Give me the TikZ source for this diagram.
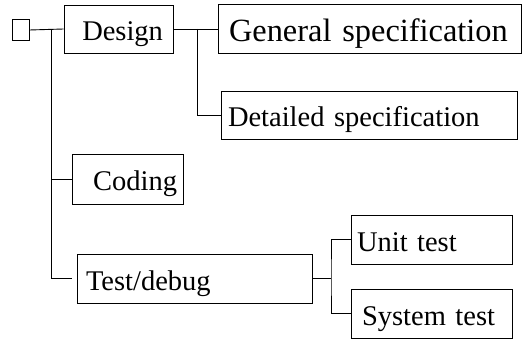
\documentclass[tikz,border=0pt]{standalone}
\usepackage{fontspec}
\setmainfont{Liberation Serif}
\usepackage{tikz}

\begin{document}
\begin{tikzpicture}[x=1pt, y=-1pt, line width=0.9pt,
  task/.style={draw, rectangle, inner ysep=0pt, minimum height=49pt,
    font=\fontsize{28.5}{30}\selectfont, text height=26pt, text depth=2pt},
  bigtask/.style={task, font=\fontsize{32.4}{34}\selectfont, text height=29.5pt, text depth=2.5pt}]
  \useasboundingbox (0,0) rectangle (523,342);
  \node[draw, minimum width=17pt, minimum height=21pt, inner sep=0pt] (root) at (20.5,30) {};
  \node[task, minimum height=48pt, inner xsep=10pt, text width=89pt, align=right] (design) at (118.5,29) {Design};
  \node[bigtask, inner xsep=11pt, text width=281pt, align=left] (general) at (369.5,28.5) {General specification};
  \node[task, minimum height=48pt, inner xsep=7pt, text width=282pt, align=left] (detailed) at (369,115) {Detailed specification};
  \node[task, minimum height=50pt, inner xsep=6pt, text width=99pt, align=right] (coding) at (127.5,179) {Coding};
  \node[task, inner xsep=9pt, text width=217pt, align=left] (test) at (194.5,278.5) {Test/debug};
  \node[task, inner xsep=6pt, text width=149pt, align=left] (unit) at (431.5,239.5) {Unit test};
  \node[task, inner xsep=11pt, text width=139pt, align=left] (system) at (431.5,313.5) {System test};
  % branch points
  \coordinate (trunk) at (51,30);
  \coordinate (spec) at (197,29);
  \coordinate (tests) at (331,278.5);
  \draw (root.east) -- (design.west);
  \draw (trunk) |- (coding.west);
  \draw[shorten >=5pt] (trunk) |- (test.west);
  \draw (design.east) -- (general.west |- design.east);
  \draw (spec) |- (detailed.west);
  \draw (test.east) -- (tests);
  \draw (unit.west) -| (tests) |- (system.west);
\end{tikzpicture}
\end{document}
